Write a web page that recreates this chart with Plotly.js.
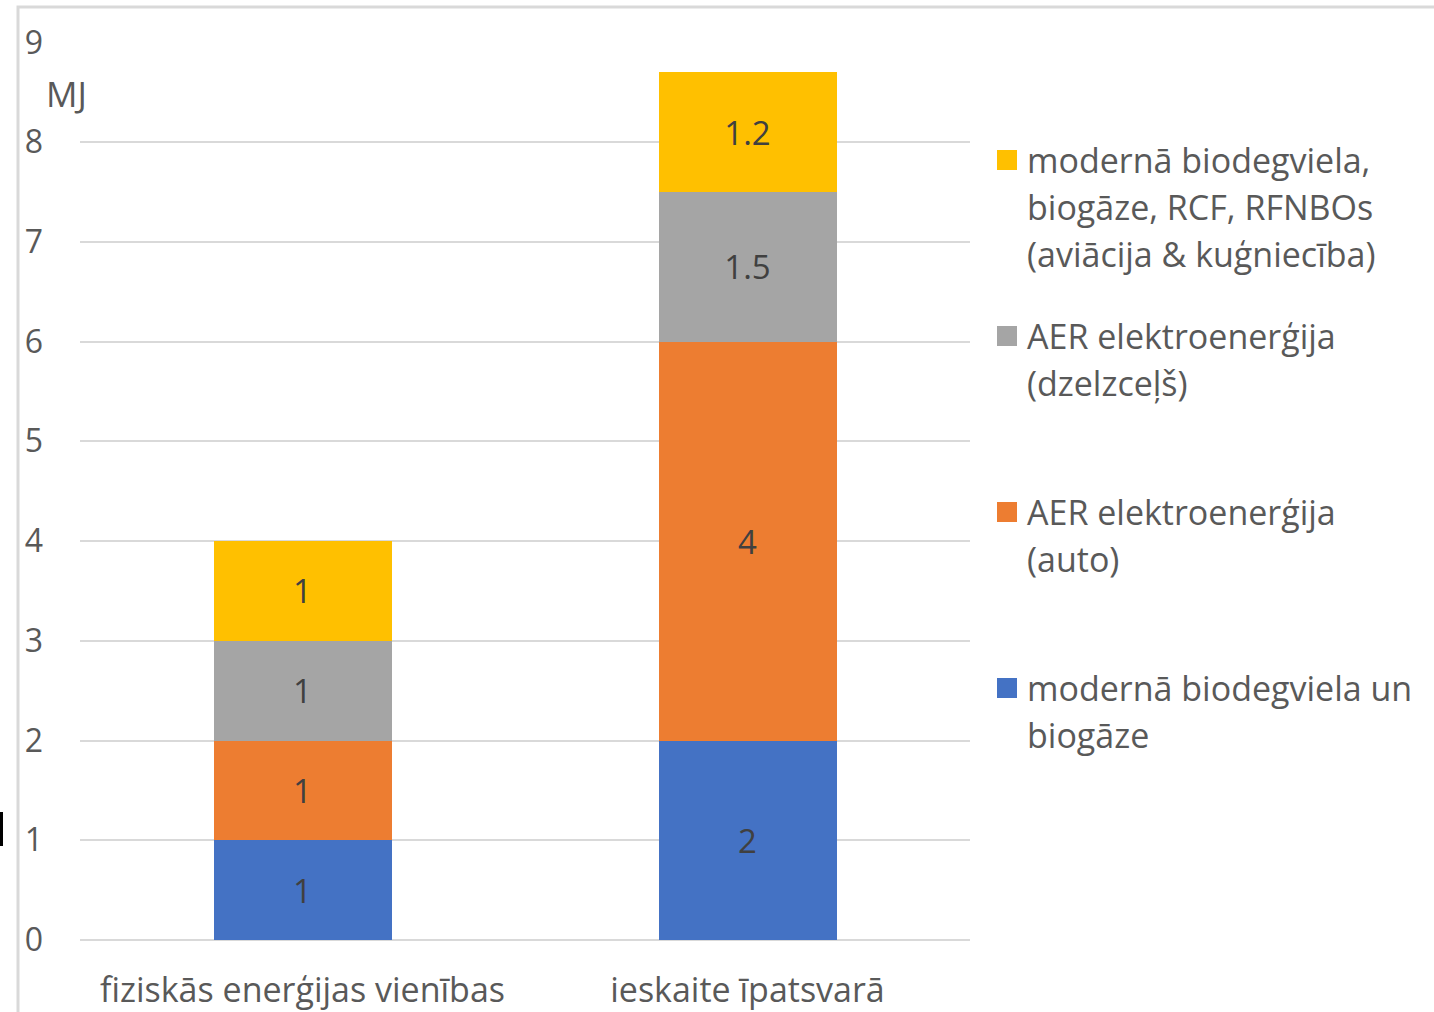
<!DOCTYPE html>
<html><head><meta charset="utf-8">
<script src="https://cdn.plot.ly/plotly-3.0.1.min.js"></script>
<style>html,body{margin:0;padding:0;background:#fff;} #chart{width:1434px;height:1012px;}</style>
</head><body><div id="chart"></div>
<script>
// ---- data ----
const categories = ["fiziskās enerģijas vienības", "ieskaite īpatsvarā"];
const biodegvielaBiogaze = [1, 2];
const elektroAuto = [1, 4];
const elektroDzelzcels = [1, 1.5];
const biodegvielaAviacija = [1, 1.2];
const seriesValues = [biodegvielaBiogaze, elektroAuto, elektroDzelzcels, biodegvielaAviacija];
const seriesLegendLines = [
  ["modernā biodegviela un", "biogāze"],
  ["AER elektroenerģija", "(auto)"],
  ["AER elektroenerģija", "(dzelzceļš)"],
  ["modernā biodegviela,", "biogāze, RCF, RFNBOs", "(aviācija & kuģniecība)"]
];
const seriesColors = ["#4472C4", "#ED7D31", "#A5A5A5", "#FFC000"];
const yTickValues = [0, 1, 2, 3, 4, 5, 6, 7, 8, 9];
const unitLabel = "MJ";

// ---- layout helpers (pixel -> paper) ----
const W = 1434, H = 1012;
const M = {l: 80, r: 464, t: 42, b: 72};
const PW = W - M.l - M.r, PH = H - M.t - M.b;
const px = x => (x - M.l) / PW;
const py = y => (H - M.b - y) / PH;

const FONT = '"Open Sans", "Noto Sans", sans-serif';
const TXT = '#595959';

const traces = seriesValues.map((vals, i) => ({
  type: 'bar',
  x: categories,
  y: vals,
  name: seriesLegendLines[i].join(' '),
  marker: {color: seriesColors[i], line: {width: 0}},
  text: vals.map(v => String(v)),
  textposition: 'inside',
  insidetextanchor: 'middle',
  textangle: 0,
  constraintext: 'none',
  textfont: {family: FONT, size: 33, color: '#404040'},
  hoverinfo: 'skip'
}));

const annotations = [];
const shapes = [];
// legend (top to bottom: reversed series order)
const legendOrder = [3, 2, 1, 0];
legendOrder.forEach((s, k) => {
  const y0 = 160 + 176 * k;
  shapes.push({type: 'rect', xref: 'paper', yref: 'paper',
    x0: px(997), x1: px(1017), y0: py(y0 + 10), y1: py(y0 - 10),
    fillcolor: seriesColors[s], line: {width: 0}});
  seriesLegendLines[s].forEach((line, j) => {
    annotations.push({xref: 'paper', yref: 'paper', x: px(1025), y: py(y0 + 47 * j),
      xanchor: 'left', yanchor: 'middle', text: line, showarrow: false,
      font: {family: FONT, size: 34, color: TXT}});
  });
});
// unit label
annotations.push({xref: 'paper', yref: 'paper', x: px(66), y: py(93), xanchor: 'center', yanchor: 'middle',
  text: unitLabel, showarrow: false, font: {family: FONT, size: 35, color: TXT}});
// chart border
shapes.push({type: 'rect', xref: 'paper', yref: 'paper', x0: px(18), x1: px(1500), y0: py(1100), y1: py(7),
  line: {color: '#D9D9D9', width: 3}, fillcolor: 'rgba(0,0,0,0)', layer: 'below'});
// stray mark on left edge
shapes.push({type: 'rect', xref: 'paper', yref: 'paper', x0: px(0), x1: px(3), y0: py(846), y1: py(812),
  fillcolor: '#000', line: {width: 0}});

const layout = {
  width: W, height: H,
  margin: M,
  paper_bgcolor: '#fff', plot_bgcolor: '#fff',
  barmode: 'stack',
  bargap: 0.6,
  showlegend: false,
  font: {family: FONT, color: TXT},
  xaxis: {
    type: 'category', showgrid: false, zeroline: false, showline: false, ticks: '',
    tickfont: {family: FONT, size: 34, color: TXT}, ticklabelstandoff: 27, fixedrange: true
  },
  yaxis: {
    range: [0, 9.003], tickvals: yTickValues, ticktext: yTickValues.map(String),
    showgrid: true, gridcolor: '#D9D9D9', gridwidth: 2,
    zeroline: true, zerolinecolor: '#D9D9D9', zerolinewidth: 2,
    showline: false, ticks: '', ticklabelstandoff: 36,
    tickfont: {family: FONT, size: 32, color: TXT}, fixedrange: true
  },
  annotations: annotations,
  shapes: shapes
};

Plotly.newPlot('chart', traces, layout, {displayModeBar: false, staticPlot: true});
</script>
</body></html>
